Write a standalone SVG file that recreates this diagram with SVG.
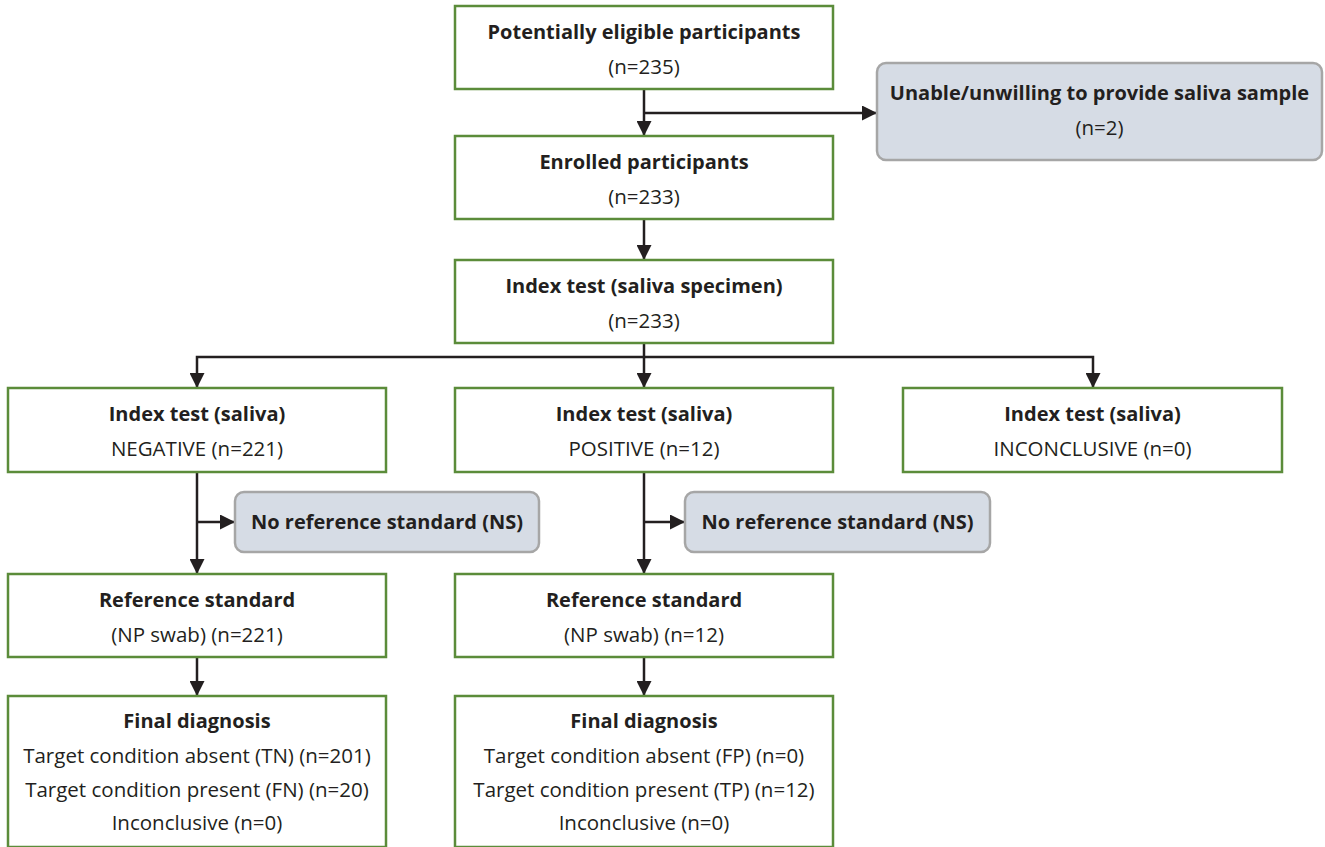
<svg xmlns="http://www.w3.org/2000/svg" width="1325" height="847" viewBox="0 0 1325 847">
<style>
.box{fill:#ffffff;stroke:#5b8c3a;stroke-width:2.5}
.gbox{fill:#d6dce5;stroke:#a6a6a6;stroke-width:2.5}
.t{font-family:"Open Sans","Liberation Sans",sans-serif;font-size:20.5px;fill:#231f20;text-anchor:middle}
.b{font-weight:bold;font-size:20px}
.c{fill:none;stroke:#231f20;stroke-width:2.5}
</style>
<defs>
<marker id="ah" markerUnits="userSpaceOnUse" markerWidth="15" markerHeight="15" refX="15" refY="7.5" orient="auto">
<path d="M0,0 L15,7.5 L0,15 z" fill="#231f20"/>
</marker>
</defs>
<rect width="1325" height="847" fill="#ffffff"/>
<g id="connectors">
<path class="c" d="M644,89 V136" marker-end="url(#ah)"/>
<path class="c" d="M644,113 H877" marker-end="url(#ah)"/>
<path class="c" d="M644,219 V260" marker-end="url(#ah)"/>
<path class="c" d="M644,343 V388" marker-end="url(#ah)"/>
<path class="c" d="M644,357 H197 V388" marker-end="url(#ah)"/>
<path class="c" d="M644,357 H1093 V388" marker-end="url(#ah)"/>
<path class="c" d="M197,472 V574" marker-end="url(#ah)"/>
<path class="c" d="M197,522 H235" marker-end="url(#ah)"/>
<path class="c" d="M644,472 V574" marker-end="url(#ah)"/>
<path class="c" d="M644,522 H685" marker-end="url(#ah)"/>
<path class="c" d="M197,657 V696" marker-end="url(#ah)"/>
<path class="c" d="M644,657 V696" marker-end="url(#ah)"/>
</g>
<g id="eligible">
<rect class="box" x="455" y="6" width="378" height="83"/>
<text class="t b" x="644" y="39">Potentially eligible participants</text>
<text class="t" x="644" y="74">(n=235)</text>
</g>
<g id="excluded">
<rect class="gbox" x="877" y="63" width="445" height="97" rx="9"/>
<text class="t b" x="1099.5" y="100">Unable/unwilling to provide saliva sample</text>
<text class="t" x="1099.5" y="135">(n=2)</text>
</g>
<g id="enrolled">
<rect class="box" x="455" y="136" width="378" height="83"/>
<text class="t b" x="644" y="169">Enrolled participants</text>
<text class="t" x="644" y="204">(n=233)</text>
</g>
<g id="index">
<rect class="box" x="455" y="260" width="378" height="83"/>
<text class="t b" x="644" y="293">Index test (saliva specimen)</text>
<text class="t" x="644" y="328">(n=233)</text>
</g>
<g id="negative">
<rect class="box" x="8" y="388" width="378" height="84"/>
<text class="t b" x="197" y="421">Index test (saliva)</text>
<text class="t" x="197" y="456">NEGATIVE (n=221)</text>
</g>
<g id="positive">
<rect class="box" x="455" y="388" width="378" height="84"/>
<text class="t b" x="644" y="421">Index test (saliva)</text>
<text class="t" x="644" y="456">POSITIVE (n=12)</text>
</g>
<g id="inconclusive">
<rect class="box" x="903" y="388" width="379" height="84"/>
<text class="t b" x="1092.5" y="421">Index test (saliva)</text>
<text class="t" x="1092.5" y="456">INCONCLUSIVE (n=0)</text>
</g>
<g id="ns-left">
<rect class="gbox" x="235" y="492" width="304" height="60" rx="9"/>
<text class="t b" x="387" y="529">No reference standard (NS)</text>
</g>
<g id="ns-mid">
<rect class="gbox" x="685" y="492" width="305" height="60" rx="9"/>
<text class="t b" x="837.5" y="529">No reference standard (NS)</text>
</g>
<g id="ref-left">
<rect class="box" x="8" y="574" width="378" height="83"/>
<text class="t b" x="197" y="607">Reference standard</text>
<text class="t" x="197" y="642">(NP swab) (n=221)</text>
</g>
<g id="ref-mid">
<rect class="box" x="455" y="574" width="378" height="83"/>
<text class="t b" x="644" y="607">Reference standard</text>
<text class="t" x="644" y="642">(NP swab) (n=12)</text>
</g>
<g id="final-left">
<rect class="box" x="8" y="696" width="378" height="151"/>
<text class="t b" x="197" y="728">Final diagnosis</text>
<text class="t" x="197" y="763">Target condition absent (TN) (n=201)</text>
<text class="t" x="197" y="797">Target condition present (FN) (n=20)</text>
<text class="t" x="197" y="830">Inconclusive (n=0)</text>
</g>
<g id="final-mid">
<rect class="box" x="455" y="696" width="378" height="151"/>
<text class="t b" x="644" y="728">Final diagnosis</text>
<text class="t" x="644" y="763">Target condition absent (FP) (n=0)</text>
<text class="t" x="644" y="797">Target condition present (TP) (n=12)</text>
<text class="t" x="644" y="830">Inconclusive (n=0)</text>
</g>
</svg>
